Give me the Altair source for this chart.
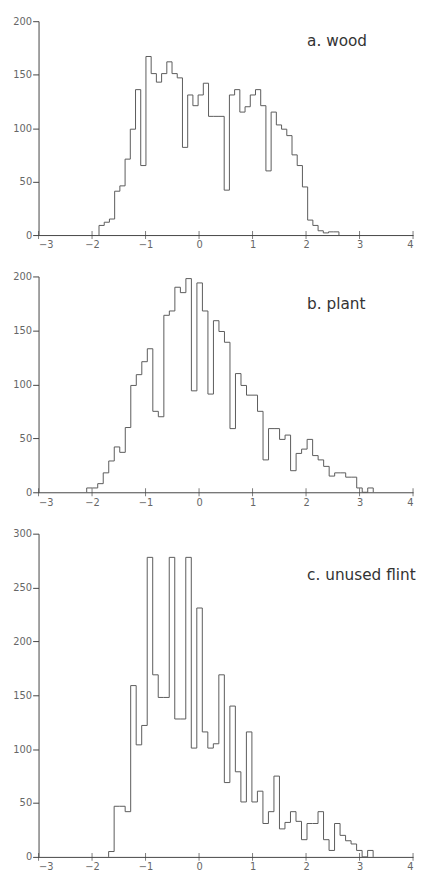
import altair as alt
import pandas as pd

# ---- data (bin start, bin width, counts per bin) ----
wood_start = -1.87
wood_width = 0.0975
wood_counts = [9, 12, 15, 41, 46, 71, 99, 136, 65, 167, 151, 143, 151, 162, 151,
               147, 82, 131, 121, 131, 142, 111, 111, 111, 42, 131, 136, 115, 120,
               131, 136, 121, 60, 115, 103, 99, 93, 75, 65, 45, 14, 9, 4, 2, 3, 3]

plant_start = -2.1
plant_width = 0.103
plant_counts = [4, 4, 8, 18, 29, 42, 37, 60, 99, 109, 121, 133, 75, 70, 164, 168,
                190, 185, 198, 94, 194, 168, 91, 159, 149, 139, 59, 110, 99, 90, 90,
                75, 30, 59, 59, 49, 53, 20, 36, 40, 49, 34, 30, 24, 15, 18, 18, 14,
                14, 4, 0, 4]

flint_start = -1.69
flint_width = 0.103
flint_counts = [5, 47, 47, 42, 159, 104, 122, 278, 169, 148, 148, 278, 128, 128,
                278, 101, 231, 116, 101, 105, 169, 69, 140, 79, 51, 116, 51, 61, 31,
                42, 75, 26, 32, 42, 33, 16, 31, 31, 42, 16, 6, 31, 20, 15, 12, 6, 0, 6]

panel_labels = ["a. wood", "b. plant", "c. unused flint"]
panel_ymax = [200, 200, 300]
label_x = [2.02, 2.02, 2.02]
label_y = [177, 170, 257]
x_ticks = [-3, -2, -1, 0, 1, 2, 3, 4]

FONT = "DejaVu Sans"
LINE = "#5a5a5a"
AXIS = "#444444"


def outline(start, width, counts):
    rows = [{"x": start, "y": 0, "o": 0}]
    for k, c in enumerate(counts):
        rows.append({"x": start + k * width, "y": c, "o": k + 1})
    rows.append({"x": start + len(counts) * width, "y": 0, "o": len(counts) + 1})
    return pd.DataFrame(rows)


def panel(start, width, counts, label, ymax, lx, ly, height):
    df = outline(start, width, counts)
    xenc = alt.X("x:Q", scale=alt.Scale(domain=[-3, 4], nice=False, zero=False),
                 axis=alt.Axis(values=x_ticks, ticks=False, labelPadding=5,
                               title=None, grid=False, format="d"))
    yenc = alt.Y("y:Q", scale=alt.Scale(domain=[0, ymax], nice=False),
                 axis=alt.Axis(values=list(range(0, ymax + 1, 50)), tickSize=6,
                               labelPadding=1, title=None, grid=False))
    line = alt.Chart(df).mark_line(interpolate="step-after", color=LINE,
                                   strokeWidth=1).encode(x=xenc, y=yenc, order="o:Q")
    tdf = pd.DataFrame({"x": x_ticks, "y": [0] * len(x_ticks)})
    ticks = alt.Chart(tdf).mark_tick(orient="vertical", size=8, thickness=1,
                                     color=AXIS).encode(x=xenc, y=yenc)
    ldf = pd.DataFrame({"label": [label]})
    text = alt.Chart(ldf).mark_text(align="left", baseline="alphabetic",
                                    fontSize=15.5, font=FONT, color="#333333").encode(
        x=alt.datum(lx), y=alt.datum(ly), text="label:N")
    return alt.layer(line, ticks, text).properties(width=380, height=height)


a = panel(wood_start, wood_width, wood_counts, panel_labels[0], panel_ymax[0],
          label_x[0], label_y[0], 217)
b = panel(plant_start, plant_width, plant_counts, panel_labels[1], panel_ymax[1],
          label_x[1], label_y[1], 219)
c = panel(flint_start, flint_width, flint_counts, panel_labels[2], panel_ymax[2],
          label_x[2], label_y[2], 328)

chart = alt.vconcat(a, b, c, spacing=22).properties(
    padding={"left": 4, "top": 2, "right": 0, "bottom": 0},
    background="white",
).configure_view(stroke=None).configure_axis(
    domainColor=AXIS, domainWidth=1, tickColor=AXIS, tickWidth=1,
    labelColor="#666666", labelFont=FONT, labelFontSize=10,
)

chart.save("out.html", embed_options={"renderer": "svg", "actions": False})
